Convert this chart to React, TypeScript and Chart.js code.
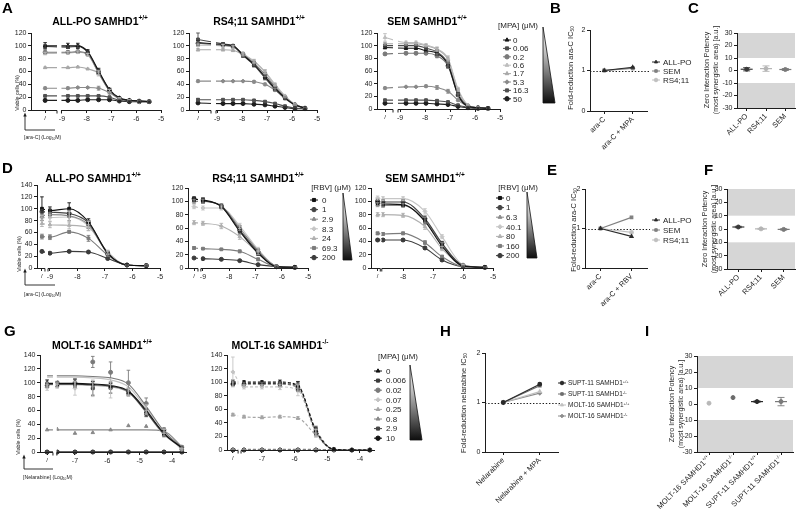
import React, { useEffect, useMemo, useRef } from 'react';
import { Chart, registerables } from 'chart.js';
import { drawPoint } from 'chart.js/helpers';

Chart.register(...registerables);

const W = 800;
const H = 520;
const FONT = '"Liberation Sans", Arial, Helvetica, sans-serif';
const INK = '#1d1d1d';

// ---------------- data ----------------
// Panel A: ara-C dose response (log10 M) under increasing MPA
const araLogA = [-8.76, -8.36, -7.96, -7.52, -7.08, -6.68, -6.28, -5.88, -5.48];
const mpaDosesA = ['0', '0.06', '0.2', '0.6', '1.7', '5.3', '16.3', '50'];
// each row: untreated control first, then one value per ara-C concentration (viable cells, %)
const allpoMpa = [
  [100, 100, 100, 91, 61, 32, 19, 15, 14, 13],
  [99, 98, 99, 90, 60, 31, 18, 15, 14, 13],
  [90, 90, 91, 87, 58, 30, 18, 15, 14, 13],
  [88, 89, 90, 86, 57, 30, 18, 15, 14, 13],
  [66, 66, 67, 64, 57, 30, 18, 15, 14, 13],
  [34, 34, 35, 35, 34, 27, 17, 14, 13, 13],
  [22, 22, 22, 22, 22, 20, 15, 14, 13, 13],
  [15, 15, 15, 16, 16, 16, 14, 13, 13, 13],
];
const allpoMpaSd = [
  [5, 4, 4, 3, 4, 2, 1, 1, 1, 1],
  [3, 2, 2, 2, 3, 2, 1, 1, 1, 1],
  [2, 2, 2, 2, 3, 2, 1, 1, 1, 1],
  [2, 2, 2, 2, 4, 2, 1, 1, 1, 1],
  [1, 1, 1, 1, 2, 2, 1, 1, 1, 1],
  [2, 2, 1, 1, 3, 2, 1, 1, 1, 1],
  [1, 1, 1, 1, 1, 1, 1, 1, 1, 1],
  [2, 1, 1, 1, 1, 1, 1, 1, 1, 1],
];
const rs411Mpa = [
  [105, 102, 100, 86, 71, 52, 34, 19, 8, 3],
  [110, 103, 100, 85, 70, 50, 32, 18, 8, 3],
  [104, 101, 99, 87, 73, 55, 36, 20, 8, 3],
  [101, 100, 98, 88, 76, 60, 40, 22, 9, 3],
  [94, 94, 93, 86, 76, 59, 39, 21, 9, 3],
  [45, 45, 45, 45, 44, 40, 31, 20, 8, 3],
  [16, 16, 16, 16, 15, 13, 10, 6, 3, 2],
  [11, 10, 10, 10, 9, 8, 6, 4, 2, 2],
];
const rs411MpaSd = [
  [3, 2, 2, 3, 3, 3, 2, 1, 1, 1],
  [10, 2, 2, 3, 3, 3, 2, 1, 1, 1],
  [2, 2, 2, 2, 3, 3, 2, 1, 1, 1],
  [2, 2, 2, 2, 3, 3, 2, 1, 1, 1],
  [2, 2, 2, 2, 2, 3, 2, 1, 1, 1],
  [2, 1, 1, 1, 2, 2, 2, 1, 1, 1],
  [2, 1, 1, 1, 1, 1, 1, 1, 1, 1],
  [1, 1, 1, 1, 1, 1, 1, 1, 1, 1],
];
const semMpa = [
  [97, 96, 96, 92, 88, 70, 22, 4, 2, 1],
  [100, 100, 100, 96, 90, 72, 24, 5, 2, 1],
  [87, 88, 88, 88, 84, 68, 22, 4, 2, 1],
  [113, 105, 105, 101, 95, 80, 32, 6, 2, 1],
  [103, 103, 103, 100, 94, 78, 30, 6, 2, 1],
  [33, 35, 35, 36, 34, 28, 14, 4, 2, 1],
  [14, 14, 14, 14, 13, 11, 6, 3, 1, 1],
  [9, 9, 9, 9, 8, 7, 4, 2, 1, 1],
];
const semMpaSd = [
  [2, 2, 2, 2, 3, 4, 2, 1, 1, 1],
  [2, 2, 2, 2, 3, 4, 2, 1, 1, 1],
  [2, 2, 2, 2, 3, 4, 2, 1, 1, 1],
  [6, 2, 2, 2, 3, 4, 2, 1, 1, 1],
  [2, 2, 2, 2, 3, 4, 2, 1, 1, 1],
  [2, 1, 1, 2, 3, 3, 2, 1, 1, 1],
  [1, 1, 1, 1, 1, 1, 1, 1, 1, 1],
  [1, 1, 1, 1, 1, 1, 1, 1, 1, 1],
];

// Panel D: ara-C dose response under increasing RBV
const araLogD = [-9, -8.3, -7.6, -6.9, -6.2, -5.5];
const araLogDsem = [-8.67, -8.0, -7.27, -6.7, -6.0, -5.27];
const rbvDoses = ['0', '1', '2.9', '8.3', '24', '69.3', '200'];
const rbvDosesSem = ['0', '1', '6.3', '40.1', '80', '160', '200'];
const allpoRbv = [
  [100, 97, 100, 78, 25, 5, 4],
  [95, 94, 92, 76, 24, 5, 4],
  [88, 90, 88, 73, 25, 5, 4],
  [85, 85, 86, 71, 26, 5, 4],
  [75, 73, 72, 68, 27, 5, 4],
  [53, 52, 61, 50, 22, 5, 4],
  [28, 25, 28, 27, 16, 5, 4],
];
const allpoRbvSd = [
  [20, 6, 10, 5, 3, 1, 1],
  [4, 5, 6, 4, 3, 1, 1],
  [3, 4, 8, 6, 3, 1, 1],
  [4, 6, 10, 8, 3, 1, 1],
  [5, 5, 6, 5, 3, 1, 1],
  [4, 4, 2, 5, 3, 1, 1],
  [2, 2, 1, 2, 2, 1, 1],
];
const rs411Rbv = [
  [103, 102, 92, 55, 22, 2, 1],
  [104, 101, 93, 57, 24, 2, 1],
  [100, 100, 93, 60, 26, 3, 1],
  [92, 90, 90, 63, 28, 3, 1],
  [68, 67, 63, 47, 23, 3, 1],
  [30, 29, 28, 25, 13, 2, 1],
  [15, 14, 13, 11, 5, 2, 1],
];
const rs411RbvSd = [
  [3, 3, 3, 4, 3, 1, 1],
  [3, 4, 3, 4, 3, 1, 1],
  [3, 3, 3, 4, 3, 1, 1],
  [3, 3, 3, 4, 3, 1, 1],
  [3, 3, 4, 4, 3, 1, 1],
  [2, 1, 1, 2, 2, 1, 1],
  [1, 1, 1, 1, 1, 1, 1],
];
const semRbv = [
  [98, 96, 95, 70, 33, 3, 1],
  [100, 99, 99, 74, 37, 4, 1],
  [95, 94, 94, 72, 35, 3, 1],
  [105, 104, 104, 85, 47, 5, 1],
  [80, 80, 79, 62, 29, 4, 1],
  [52, 51, 52, 38, 17, 2, 1],
  [42, 42, 42, 30, 12, 2, 1],
];
const semRbvSd = [
  [3, 3, 3, 4, 3, 1, 1],
  [3, 3, 3, 4, 3, 1, 1],
  [3, 3, 3, 4, 3, 1, 1],
  [3, 3, 3, 4, 3, 1, 1],
  [3, 3, 3, 4, 3, 1, 1],
  [2, 2, 2, 3, 2, 1, 1],
  [2, 2, 2, 2, 2, 1, 1],
];

// Panel G: nelarabine dose response (log10 M) under increasing MPA
const nelLog = [-7.55, -7.0, -6.45, -5.9, -5.35, -4.8, -4.25, -3.7];
const mpaDosesG = ['0', '0.006', '0.02', '0.07', '0.25', '0.8', '2.9', '10'];
const moltWtFit = [
  [99, 99, 99, 98, 96, 88, 60, 27, 6],
  [98, 98, 98, 97, 95, 87, 58, 26, 6],
  [110, 110, 110, 109, 107, 98, 66, 30, 7],
  [108, 108, 108, 107, 104, 94, 63, 30, 3],
  [97, 97, 97, 96, 94, 86, 57, 25, 6],
  [32, 32, 32, 32, 32, 32, 32, 30, 8],
  [0, 0, 0, 0, 0, 0, 0, 0, 0],
  [0, 0, 0, 0, 0, 0, 0, 0, 0],
];
const moltWt = [
  [100, 98, 100, 98, 95, 88, 58, 28, 5],
  [97, 97, 98, 92, 93, 85, 55, 25, 5],
  [96, 100, 100, 130, 115, 100, 70, 32, 7],
  [93, 95, 92, 92, 92, 87, 62, 30, 4],
  [98, 97, 98, 97, 94, 85, 57, 25, 5],
  [32, 33, 27, 28, 32, 38, 37, 30, 6],
  [0, 0, 0, 0, 0, 0, 0, 0, 0],
  [0, 0, 0, 0, 0, 0, 0, 0, 0],
];
const moltWtSd = [
  [4, 3, 5, 4, 4, 4, 4, 3, 1],
  [3, 3, 4, 10, 8, 4, 4, 3, 1],
  [3, 2, 6, 8, 15, 18, 8, 3, 2],
  [4, 3, 10, 12, 14, 5, 6, 3, 1],
  [3, 3, 3, 3, 3, 3, 3, 2, 1],
  [0, 0, 0, 0, 0, 0, 0, 0, 0],
  [0, 0, 0, 0, 0, 0, 0, 0, 0],
  [0, 0, 0, 0, 0, 0, 0, 0, 0],
];
const moltKo = [
  [100, 100, 100, 100, 95, 28, 1, 0, 0],
  [98, 98, 98, 98, 94, 30, 1, 0, 0],
  [97, 97, 97, 97, 92, 27, 1, 0, 0],
  [115, 93, 93, 93, 88, 25, 1, 0, 0],
  [52, 49, 48, 49, 47, 22, 1, 0, 0],
  [1, 1, 1, 1, 1, 1, 0, 0, 0],
  [0, 0, 0, 0, 0, 0, 0, 0, 0],
  [0, 0, 0, 0, 0, 0, 0, 0, 0],
];
const moltKoSd = [
  [3, 2, 2, 3, 6, 5, 0, 0, 0],
  [3, 2, 2, 3, 6, 5, 0, 0, 0],
  [3, 2, 2, 3, 6, 5, 0, 0, 0],
  [22, 3, 3, 4, 8, 5, 0, 0, 0],
  [2, 2, 2, 2, 2, 3, 0, 0, 0],
  [0, 0, 0, 0, 0, 0, 0, 0, 0],
  [0, 0, 0, 0, 0, 0, 0, 0, 0],
  [0, 0, 0, 0, 0, 0, 0, 0, 0],
];

// Panels B, E, H: fold-reduction of IC50
const foldMpaCats = ['ara-C', 'ara-C + MPA'];
const foldMpaAllpo = [1, 1.08];
const foldMpaSem = [1, 1.06];
const foldMpaRs411 = [1, 1.05];
const foldRbvCats = ['ara-C', 'ara-C + RBV'];
const foldRbvAllpo = [1, 0.8];
const foldRbvSem = [1, 1.28];
const foldRbvRs411 = [1, 0.9];
const foldNelCats = ['Nelarabine', 'Nelarabine + MPA'];
const foldNelSuptWt = [1, 1.37];
const foldNelSuptKo = [1, 1.34];
const foldNelMoltWt = [1, 1.22];
const foldNelMoltKo = [1, 1.19];

// Panels C, F, I: zero interaction potency (mean and spread)
const zipLines = ['ALL-PO', 'RS4;11', 'SEM'];
const zipMpa = [1.0, 1.5, 0.8];
const zipMpaSd = [1.3, 2.2, 0.8];
const zipRbv = [1.5, 0.1, -0.3];
const zipRbvSd = [0.5, 0.4, 0.5];
const zipNelLines = ['MOLT-16 SAMHD1^{+/+}', 'MOLT-16 SAMHD1^{-/-}', 'SUPT-11 SAMHD1^{+/+}', 'SUPT-11 SAMHD1^{-/-}'];
const zipNel = [0.5, 4, 1.5, 1.5];
const zipNelSd = [0, 0, 0.4, 2.6];

// ---------------- styling ----------------
const mpaColors = ['#161616', '#4a4a4a', '#7a7a7a', '#bdbdbd', '#a8a8a8', '#8a8a8a', '#505050', '#1f1f1f'];
const mpaShapes = ['triangle', 'rect', 'circle', 'triangle', 'triangle', 'rectRot', 'rect', 'circle'];
const rbvColors = ['#111111', '#444444', '#8a8a8a', '#c6c6c6', '#b0b0b0', '#7c7c7c', '#3c3c3c'];
const rbvShapes = ['rect', 'circle', 'triangle', 'rectRot', 'triangle', 'rect', 'circle'];
const mpaGColors = ['#111111', '#3a3a3a', '#7a7a7a', '#c4c4c4', '#a5a5a5', '#888888', '#444444', '#111111'];
const mpaGShapes = ['triangle', 'rect', 'circle', 'rectRot', 'triangle', 'triangle', 'rect', 'circle'];

type Area = { l: number; t: number; r: number; b: number };

function fontOf(size: number, bold = false) {
  return `${bold ? 'bold ' : ''}${size}px ${FONT}`;
}

// tiny markup: ^{..} superscript, _{..} subscript
function parseRich(s: string) {
  const out: { t: string; k: string }[] = [];
  const re = /\^\{([^}]*)\}|_\{([^}]*)\}|([^^_]+)/g;
  let m: RegExpExecArray | null;
  while ((m = re.exec(s))) {
    if (m[1] !== undefined) out.push({ t: m[1], k: 'sup' });
    else if (m[2] !== undefined) out.push({ t: m[2], k: 'sub' });
    else out.push({ t: m[3], k: 'n' });
  }
  return out;
}

function richText(ctx: CanvasRenderingContext2D, s: string, x: number, y: number, size: number, opt: any = {}) {
  const segs = parseRich(s);
  const sz = (k: string) => (k === 'n' ? size : size * 0.62);
  const widths = segs.map((g) => {
    ctx.font = fontOf(sz(g.k), opt.bold);
    return ctx.measureText(g.t).width;
  });
  const total = widths.reduce((a, b) => a + b, 0);
  let cx = opt.align === 'center' ? x - total / 2 : opt.align === 'right' ? x - total : x;
  ctx.save();
  ctx.fillStyle = opt.color || INK;
  ctx.textBaseline = 'alphabetic';
  ctx.textAlign = 'left';
  segs.forEach((g, i) => {
    ctx.font = fontOf(sz(g.k), opt.bold);
    const dy = g.k === 'sup' ? -size * 0.42 : g.k === 'sub' ? size * 0.22 : 0;
    ctx.fillText(g.t, cx, y + dy);
    cx += widths[i];
  });
  ctx.restore();
}

function vText(ctx: CanvasRenderingContext2D, s: string, x: number, cy: number, size: number) {
  ctx.save();
  ctx.translate(x, cy);
  ctx.rotate(-Math.PI / 2);
  richText(ctx, s, 0, size * 0.35, size, { align: 'center' });
  ctx.restore();
}

function letter(ctx: CanvasRenderingContext2D, s: string, x: number, y: number) {
  richText(ctx, s, x, y, 15, { bold: true, color: '#000' });
}

function heading(ctx: CanvasRenderingContext2D, s: string, cx: number, cy: number) {
  richText(ctx, s, cx, cy + 3.7, 10.5, { bold: true, align: 'center', color: '#000' });
}

function axisKey(ctx: CanvasRenderingContext2D, o: any) {
  vText(ctx, 'Viable cells (%)', o.lx, o.ly, 5.2);
  ctx.save();
  ctx.strokeStyle = INK;
  ctx.lineWidth = 0.9;
  ctx.beginPath();
  ctx.moveTo(o.ax, o.y);
  ctx.lineTo(o.ax, o.top);
  ctx.moveTo(o.ax, o.y);
  ctx.lineTo(o.right, o.y);
  ctx.stroke();
  ctx.fillStyle = INK;
  ctx.beginPath();
  ctx.moveTo(o.ax, o.top - 2.5);
  ctx.lineTo(o.ax - 1.7, o.top + 1.5);
  ctx.lineTo(o.ax + 1.7, o.top + 1.5);
  ctx.closePath();
  ctx.fill();
  ctx.restore();
  richText(ctx, o.text, o.ax - 1, o.ty, 5.2);
}

function marker(ctx: CanvasRenderingContext2D, x: number, y: number, color: string, shape: string, r = 2.2) {
  ctx.save();
  ctx.strokeStyle = color;
  ctx.lineWidth = 1;
  ctx.beginPath();
  ctx.moveTo(x - 4, y);
  ctx.lineTo(x + 4, y);
  ctx.stroke();
  ctx.fillStyle = color;
  drawPoint(ctx, { pointStyle: shape as any, radius: r, rotation: 0, borderWidth: 1 } as any, x, y);
  ctx.restore();
}

function doseLegend(ctx: CanvasRenderingContext2D, o: any) {
  richText(ctx, o.title, o.tx, o.ty + 2.8, 8, { align: 'center' });
  o.labels.forEach((lab: string, i: number) => {
    const y = o.y0 + i * o.step;
    marker(ctx, o.mx, y, o.colors[i], o.shapes[i]);
    richText(ctx, lab, o.lx, y + 2.8, 8);
  });
  const [x0, y0, x1, y1] = o.tri;
  const g = ctx.createLinearGradient(0, y0, 0, y1);
  g.addColorStop(0, '#ffffff');
  g.addColorStop(0.35, '#bdbdbd');
  g.addColorStop(1, '#0e0e0e');
  ctx.save();
  ctx.beginPath();
  ctx.moveTo(x0, y0);
  ctx.lineTo(x0, y1);
  ctx.lineTo(x1, y1);
  ctx.closePath();
  ctx.fillStyle = g;
  ctx.fill();
  ctx.strokeStyle = '#111';
  ctx.lineWidth = 0.8;
  ctx.stroke();
  ctx.restore();
}

function lineLegend(ctx: CanvasRenderingContext2D, o: any) {
  o.labels.forEach((lab: string, i: number) => {
    const y = o.y0 + i * o.step;
    marker(ctx, o.mx, y, o.colors[i], o.shapes[i], 1.8);
    richText(ctx, lab, o.lx, y + o.size * 0.35, o.size);
  });
}

function errBar(ctx: CanvasRenderingContext2D, x: number, y0: number, y1: number, color: string, cap: number) {
  ctx.strokeStyle = color;
  ctx.lineWidth = 0.9;
  ctx.beginPath();
  ctx.moveTo(x, y0);
  ctx.lineTo(x, y1);
  ctx.moveTo(x - cap, y0);
  ctx.lineTo(x + cap, y0);
  ctx.moveTo(x - cap, y1);
  ctx.lineTo(x + cap, y1);
  ctx.stroke();
}

function place(a: Area, yw: number, xh: number) {
  return { left: a.l - yw, top: a.t, right: W - a.r, bottom: H - a.b - xh };
}

function baseOptions() {
  return {
    responsive: false,
    animation: false,
    devicePixelRatio: 1,
    events: [],
    plugins: { legend: { display: false }, tooltip: { enabled: false }, title: { display: false } },
  };
}

const tickFont = { family: FONT, size: 7 };

// ---------------- dose-response panel ----------------
function doseConfig(s: any) {
  const xs = [s.ctrl, ...s.conc];
  const datasets: any[] = [];
  s.vals.forEach((row: number[], i: number) => {
    const base = {
      clip: false,
      borderColor: s.colors[i],
      backgroundColor: s.colors[i],
      borderWidth: 1.1,
      cubicInterpolationMode: 'monotone',
      borderDash: s.dashed ? [3, 2] : [],
      pointStyle: s.shapes[i],
      pointRadius: 2,
      pointBorderWidth: 1,
    };
    const pts = row.map((v, j) => ({ x: xs[j], y: v }));
    if (s.fits) {
      datasets.push({ ...base, data: s.fits[i].map((v: number, j: number) => ({ x: xs[j], y: v })), showLine: true, pointRadius: 0 });
      datasets.push({ ...base, data: pts, showLine: false });
    } else {
      datasets.push({ ...base, data: pts, showLine: true });
    }
  });
  const plugin = {
    id: 'doseDecor',
    beforeDatasetsDraw(chart: any) {
      const ctx = chart.ctx;
      const x = chart.scales.x;
      const b0 = x.getPixelForValue(s.brk[0]);
      const b1 = x.getPixelForValue(s.brk[1]);
      ctx.save();
      ctx.beginPath();
      ctx.rect(0, 0, b0, H);
      ctx.rect(b1, 0, W - b1, H);
      ctx.clip();
    },
    afterDatasetsDraw(chart: any) {
      const ctx = chart.ctx;
      ctx.restore();
      const x = chart.scales.x;
      const y = chart.scales.y;
      ctx.save();
      s.vals.forEach((row: number[], i: number) => {
        row.forEach((v, j) => {
          const e = s.errs[i][j];
          if (!e) return;
          errBar(ctx, x.getPixelForValue(xs[j]), y.getPixelForValue(v + e), y.getPixelForValue(Math.max(v - e, 0)), s.colors[i], 1.8);
        });
      });
      ctx.restore();
    },
    afterDraw(chart: any) {
      const ctx = chart.ctx;
      const x = chart.scales.x;
      const a = chart.chartArea;
      const b0 = x.getPixelForValue(s.brk[0]);
      const b1 = x.getPixelForValue(s.brk[1]);
      const yb = Math.round(a.bottom) + 0.5;
      ctx.save();
      ctx.strokeStyle = INK;
      ctx.lineWidth = 1;
      ctx.beginPath();
      ctx.moveTo(a.left, yb);
      ctx.lineTo(b0, yb);
      ctx.moveTo(b1, yb);
      ctx.lineTo(a.right, yb);
      ctx.moveTo(b0, yb);
      ctx.lineTo(b0, yb + 3);
      ctx.moveTo(b1, yb);
      ctx.lineTo(b1, yb + 3);
      ctx.stroke();
      ctx.restore();
      s.deco(ctx);
    },
  };
  return {
    type: 'scatter',
    data: { datasets },
    options: {
      ...baseOptions(),
      layout: { padding: place(s.area, 30, 20) },
      scales: {
        x: {
          type: 'linear',
          min: s.xMin,
          max: s.xMax,
          afterBuildTicks: (sc: any) => {
            sc.ticks = [s.ctrl, ...s.xTicks].map((v: number) => ({ value: v }));
          },
          ticks: {
            autoSkip: false,
            maxRotation: 0,
            padding: 2,
            color: INK,
            font: (c: any) => ({ family: FONT, size: c.tick && c.tick.value === s.ctrl ? 6 : 7 }),
            callback: (v: number) => (v === s.ctrl ? '/' : String(v)),
          },
          grid: { drawOnChartArea: false, tickLength: 3, color: INK, lineWidth: 1 },
          border: { display: false },
          afterFit: (sc: any) => {
            sc.height = 20;
          },
        },
        y: {
          min: 0,
          max: s.yMax,
          ticks: { stepSize: 20, padding: 1.5, color: INK, font: tickFont },
          grid: { drawOnChartArea: false, tickLength: 3, color: INK, lineWidth: 1 },
          border: { display: true, color: INK, width: 1 },
          afterFit: (sc: any) => {
            sc.width = 30;
          },
        },
      },
    },
    plugins: [plugin],
  };
}

// ---------------- fold-reduction panel ----------------
function foldConfig(s: any) {
  return {
    type: 'line',
    data: {
      labels: s.cats,
      datasets: s.series.map((d: number[], i: number) => ({
        data: d,
        borderColor: s.colors[i],
        backgroundColor: s.colors[i],
        borderWidth: 1.2,
        pointRadius: 1.8,
        pointStyle: s.shapes[i],
        clip: false,
        tension: 0,
      })),
    },
    options: {
      ...baseOptions(),
      layout: { padding: place(s.area, 14, 60) },
      scales: {
        x: {
          type: 'category',
          offset: true,
          ticks: { autoSkip: false, minRotation: 45, maxRotation: 45, padding: 1, color: INK, font: { family: FONT, size: 7.5 } },
          grid: { drawOnChartArea: false, tickLength: 3, color: INK, offset: false },
          border: { display: true, color: INK, width: 1 },
          afterFit: (sc: any) => {
            sc.height = 60;
          },
        },
        y: {
          min: 0,
          max: 2,
          ticks: { stepSize: 1, padding: 1.5, color: INK, font: tickFont },
          grid: { drawOnChartArea: false, tickLength: 3, color: INK },
          border: { display: true, color: INK, width: 1 },
          afterFit: (sc: any) => {
            sc.width = 14;
          },
        },
      },
    },
    plugins: [
      {
        id: 'foldDecor',
        beforeDatasetsDraw(chart: any) {
          const ctx = chart.ctx;
          const a = chart.chartArea;
          const y1 = Math.round(chart.scales.y.getPixelForValue(1)) + 0.5;
          ctx.save();
          ctx.strokeStyle = INK;
          ctx.lineWidth = 1;
          ctx.setLineDash([1.4, 1.8]);
          ctx.beginPath();
          ctx.moveTo(a.left, y1);
          ctx.lineTo(a.right + 3, y1);
          ctx.stroke();
          ctx.restore();
        },
        afterDraw(chart: any) {
          s.deco(chart.ctx);
        },
      },
    ],
  };
}

// ---------------- zero interaction potency panel ----------------
function zipConfig(s: any) {
  const plain = s.cats.map((c: string) => c.replace(/\^\{[^}]*\}/g, ''));
  return {
    type: 'line',
    data: {
      labels: plain,
      datasets: [
        {
          data: s.means,
          showLine: false,
          pointRadius: 2,
          pointBackgroundColor: s.colors,
          pointBorderColor: s.colors,
          clip: false,
        },
      ],
    },
    options: {
      ...baseOptions(),
      layout: { padding: place(s.area, 18, 60) },
      scales: {
        x: {
          type: 'category',
          offset: true,
          ticks: { display: !s.richLabels, autoSkip: false, minRotation: 45, maxRotation: 45, padding: 1, color: INK, font: { family: FONT, size: 7.5 } },
          grid: { drawOnChartArea: false, tickLength: 3, color: INK, offset: false },
          border: { display: true, color: INK, width: 1 },
          afterFit: (sc: any) => {
            sc.height = 60;
          },
        },
        y: {
          min: -30,
          max: 30,
          ticks: { stepSize: 10, padding: 1.5, color: INK, font: tickFont },
          grid: { drawOnChartArea: false, tickLength: 3, color: INK },
          border: { display: true, color: INK, width: 1 },
          afterFit: (sc: any) => {
            sc.width = 18;
          },
        },
      },
    },
    plugins: [
      {
        id: 'zipDecor',
        beforeDraw(chart: any) {
          const ctx = chart.ctx;
          const a = chart.chartArea;
          const y = chart.scales.y;
          ctx.save();
          ctx.fillStyle = '#d6d6d6';
          ctx.fillRect(a.left, y.getPixelForValue(30), a.right - a.left, y.getPixelForValue(10) - y.getPixelForValue(30));
          ctx.fillRect(a.left, y.getPixelForValue(-10), a.right - a.left, y.getPixelForValue(-30) - y.getPixelForValue(-10));
          ctx.restore();
        },
        afterDatasetsDraw(chart: any) {
          const ctx = chart.ctx;
          const x = chart.scales.x;
          const y = chart.scales.y;
          ctx.save();
          s.means.forEach((m: number, i: number) => {
            const px = x.getPixelForValue(i);
            const py = y.getPixelForValue(m);
            if (s.sds[i] > 0) {
              ctx.strokeStyle = s.colors[i];
              ctx.lineWidth = 1.2;
              ctx.beginPath();
              ctx.moveTo(px - 6, py);
              ctx.lineTo(px + 6, py);
              ctx.stroke();
              errBar(ctx, px, y.getPixelForValue(m + s.sds[i]), y.getPixelForValue(m - s.sds[i]), s.colors[i], 3.5);
            }
          });
          ctx.restore();
        },
        afterDraw(chart: any) {
          const ctx = chart.ctx;
          if (s.richLabels) {
            const x = chart.scales.x;
            const yb = chart.chartArea.bottom + 5;
            s.cats.forEach((c: string, i: number) => {
              ctx.save();
              ctx.translate(x.getPixelForValue(i), yb);
              ctx.rotate(-Math.PI / 4);
              richText(ctx, c, 0, 2.5, 7.6, { align: 'right' });
              ctx.restore();
            });
          }
          s.deco(ctx);
        },
      },
    ],
  };
}

function buildAll() {
  const list: any[] = [];

  // ---- row 1: ara-C + MPA ----
  list.push(
    doseConfig({
      area: { l: 31, t: 33, r: 161, b: 110 },
      xMin: -10.25, xMax: -5, ctrl: -9.68, brk: [-9.2, -9.02], xTicks: [-9, -8, -7, -6, -5], yMax: 120,
      conc: araLogA, vals: allpoMpa, errs: allpoMpaSd, colors: mpaColors, shapes: mpaShapes,
      deco: (ctx: CanvasRenderingContext2D) => {
        letter(ctx, 'A', 2, 13);
        heading(ctx, 'ALL-PO SAMHD1^{+/+}', 100, 21);
        axisKey(ctx, { lx: 17, ly: 93, ax: 25, top: 115, y: 130, right: 55, ty: 139, text: '[ara-C] (Log_{10}M)' });
      },
    })
  );
  list.push(
    doseConfig({
      area: { l: 189, t: 33, r: 317, b: 110 },
      xMin: -10.12, xMax: -5, ctrl: -9.76, brk: [-9.24, -9.04], xTicks: [-9, -8, -7, -6, -5], yMax: 120,
      conc: araLogA, vals: rs411Mpa, errs: rs411MpaSd, colors: mpaColors, shapes: mpaShapes,
      deco: (ctx: CanvasRenderingContext2D) => {
        heading(ctx, 'RS4;11 SAMHD1^{+/+}', 259, 21);
      },
    })
  );
  list.push(
    doseConfig({
      area: { l: 377, t: 33, r: 500, b: 109 },
      xMin: -9.92, xMax: -5, ctrl: -9.6, brk: [-9.28, -9.08], xTicks: [-9, -8, -7, -6, -5], yMax: 120,
      conc: araLogA, vals: semMpa, errs: semMpaSd, colors: mpaColors, shapes: mpaShapes,
      deco: (ctx: CanvasRenderingContext2D) => {
        heading(ctx, 'SEM SAMHD1^{+/+}', 427, 21);
        doseLegend(ctx, {
          title: '[MPA] (μM)', tx: 518, ty: 25, mx: 507, lx: 513, y0: 40, step: 8.4,
          labels: mpaDosesA, colors: mpaColors, shapes: mpaShapes, tri: [543, 27, 555, 103],
        });
      },
    })
  );
  list.push(
    foldConfig({
      area: { l: 590, t: 30, r: 647, b: 111 },
      cats: foldMpaCats,
      series: [foldMpaAllpo, foldMpaSem, foldMpaRs411],
      colors: ['#2a2a2a', '#808080', '#c0c0c0'],
      shapes: ['triangle', 'rect', 'circle'],
      deco: (ctx: CanvasRenderingContext2D) => {
        letter(ctx, 'B', 550, 13);
        vText(ctx, 'Fold-reduction ara-C IC_{50}', 570, 68, 7.5);
        lineLegend(ctx, { mx: 656, lx: 663, y0: 62, step: 9, size: 8, labels: ['ALL-PO', 'SEM', 'RS4;11'], colors: ['#2a2a2a', '#808080', '#c0c0c0'], shapes: ['triangle', 'rect', 'circle'] });
      },
    })
  );
  list.push(
    zipConfig({
      area: { l: 737, t: 33, r: 798, b: 108 },
      cats: zipLines, means: zipMpa, sds: zipMpaSd, colors: ['#3a3a3a', '#b5b5b5', '#7a7a7a'],
      deco: (ctx: CanvasRenderingContext2D) => {
        letter(ctx, 'C', 688, 13);
        vText(ctx, 'Zero Interaction Potency', 707, 70, 7);
        vText(ctx, '(most synergistic area) [a.u.]', 716, 70, 7);
      },
    })
  );

  // ---- row 2: ara-C + RBV ----
  list.push(
    doseConfig({
      area: { l: 37, t: 185, r: 160, b: 268 },
      xMin: -9.47, xMax: -5, ctrl: -9.29, brk: [-9.18, -9.07], xTicks: [-9, -8, -7, -6, -5], yMax: 140,
      conc: araLogD, vals: allpoRbv, errs: allpoRbvSd, colors: rbvColors, shapes: rbvShapes,
      deco: (ctx: CanvasRenderingContext2D) => {
        letter(ctx, 'D', 2, 173);
        heading(ctx, 'ALL-PO SAMHD1^{+/+}', 93, 178);
        axisKey(ctx, { lx: 19, ly: 254, ax: 25, top: 271, y: 285, right: 55, ty: 296, text: '[ara-C] (Log_{10}M)' });
      },
    })
  );
  list.push(
    doseConfig({
      area: { l: 188, t: 188, r: 308, b: 268 },
      xMin: -9.57, xMax: -5, ctrl: -9.34, brk: [-9.19, -9.08], xTicks: [-9, -8, -7, -6, -5], yMax: 120,
      conc: araLogD, vals: rs411Rbv, errs: rs411RbvSd, colors: rbvColors, shapes: rbvShapes,
      deco: (ctx: CanvasRenderingContext2D) => {
        heading(ctx, 'RS4;11 SAMHD1^{+/+}', 258, 178);
        doseLegend(ctx, {
          title: '[RBV] (μM)', tx: 331, ty: 187, mx: 314, lx: 322, y0: 200, step: 9.6,
          labels: rbvDoses, colors: rbvColors, shapes: rbvShapes, tri: [343, 193, 352, 260],
        });
      },
    })
  );
  list.push(
    doseConfig({
      area: { l: 371, t: 188, r: 493, b: 268 },
      xMin: -9.07, xMax: -5, ctrl: -8.85, brk: [-8.76, -8.71], xTicks: [-8, -7, -6, -5], yMax: 120,
      conc: araLogDsem, vals: semRbv, errs: semRbvSd, colors: rbvColors, shapes: rbvShapes,
      deco: (ctx: CanvasRenderingContext2D) => {
        heading(ctx, 'SEM SAMHD1^{+/+}', 425, 178);
        doseLegend(ctx, {
          title: '[RBV] (μM)', tx: 518, ty: 187, mx: 500, lx: 506, y0: 198, step: 9.6,
          labels: rbvDosesSem, colors: rbvColors, shapes: rbvShapes, tri: [527, 192, 537, 258],
        });
      },
    })
  );
  list.push(
    foldConfig({
      area: { l: 585, t: 189, r: 647, b: 268 },
      cats: foldRbvCats,
      series: [foldRbvAllpo, foldRbvSem, foldRbvRs411],
      colors: ['#2a2a2a', '#808080', '#c0c0c0'],
      shapes: ['triangle', 'rect', 'circle'],
      deco: (ctx: CanvasRenderingContext2D) => {
        letter(ctx, 'E', 547, 175);
        vText(ctx, 'Fold-reduction ara-C IC_{50}', 573, 230, 7.5);
        lineLegend(ctx, { mx: 656, lx: 663, y0: 220, step: 10, size: 8, labels: ['ALL-PO', 'SEM', 'RS4;11'], colors: ['#2a2a2a', '#808080', '#c0c0c0'], shapes: ['triangle', 'rect', 'circle'] });
      },
    })
  );
  list.push(
    zipConfig({
      area: { l: 727, t: 189, r: 800, b: 269 },
      cats: zipLines, means: zipRbv, sds: zipRbvSd, colors: ['#3a3a3a', '#b5b5b5', '#7a7a7a'],
      deco: (ctx: CanvasRenderingContext2D) => {
        letter(ctx, 'F', 704, 175);
        vText(ctx, 'Zero Interaction Potency', 705, 229, 7);
        vText(ctx, '(most synergistic area) [a.u.]', 714, 229, 7);
      },
    })
  );

  // ---- row 3: nelarabine + MPA ----
  list.push(
    doseConfig({
      area: { l: 40, t: 355, r: 187, b: 452 },
      xMin: -8.08, xMax: -3.54, ctrl: -7.86, brk: [-7.68, -7.56], xTicks: [-7, -6, -5, -4], yMax: 140,
      conc: nelLog, vals: moltWt, errs: moltWtSd, fits: moltWtFit, colors: mpaGColors, shapes: mpaGShapes,
      deco: (ctx: CanvasRenderingContext2D) => {
        letter(ctx, 'G', 4, 336);
        heading(ctx, 'MOLT-16 SAMHD1^{+/+}', 102, 345);
        axisKey(ctx, { lx: 18, ly: 437, ax: 24, top: 457, y: 469, right: 53, ty: 479, text: '[Nelarabine] (Log_{10}M)' });
      },
    })
  );
  list.push(
    doseConfig({
      area: { l: 227, t: 355, r: 375, b: 450 },
      xMin: -8.07, xMax: -3.54, ctrl: -7.89, brk: [-7.73, -7.64], xTicks: [-7, -6, -5, -4], yMax: 140,
      conc: nelLog, vals: moltKo, errs: moltKoSd, colors: mpaGColors, shapes: mpaGShapes, dashed: true,
      deco: (ctx: CanvasRenderingContext2D) => {
        heading(ctx, 'MOLT-16 SAMHD1^{-/-}', 280, 345);
        doseLegend(ctx, {
          title: '[MPA] (μM)', tx: 398, ty: 356, mx: 378, lx: 386, y0: 371, step: 9.6,
          labels: mpaDosesG, colors: mpaGColors, shapes: mpaGShapes, tri: [410, 365, 422, 440],
        });
      },
    })
  );
  list.push(
    foldConfig({
      area: { l: 485, t: 353, r: 558, b: 452 },
      cats: foldNelCats,
      series: [foldNelSuptWt, foldNelSuptKo, foldNelMoltWt, foldNelMoltKo],
      colors: ['#2a2a2a', '#6e6e6e', '#c0c0c0', '#8c8c8c'],
      shapes: ['circle', 'rect', 'triangle', 'rectRot'],
      deco: (ctx: CanvasRenderingContext2D) => {
        letter(ctx, 'H', 440, 336);
        vText(ctx, 'Fold-reduction nelarabine IC_{50}', 463, 403, 7.5);
        lineLegend(ctx, {
          mx: 562, lx: 568, y0: 383, step: 11, size: 6.5,
          labels: ['SUPT-11 SAMHD1^{+/+}', 'SUPT-11 SAMHD1^{-/-}', 'MOLT-16 SAMHD1^{+/+}', 'MOLT-16 SAMHD1^{-/-}'],
          colors: ['#2a2a2a', '#6e6e6e', '#c0c0c0', '#8c8c8c'],
          shapes: ['circle', 'rect', 'triangle', 'rectRot'],
        });
      },
    })
  );
  list.push(
    zipConfig({
      area: { l: 697, t: 356, r: 793, b: 452 },
      cats: zipNelLines, means: zipNel, sds: zipNelSd, colors: ['#b8b8b8', '#6a6a6a', '#2a2a2a', '#7a7a7a'], richLabels: true,
      deco: (ctx: CanvasRenderingContext2D) => {
        letter(ctx, 'I', 645, 336);
        vText(ctx, 'Zero Interaction Potency', 672, 404, 7);
        vText(ctx, '(most synergistic area) [a.u.]', 681, 404, 7);
      },
    })
  );
  return list;
}

function Layer({ config }: { config: any }) {
  const ref = useRef<HTMLCanvasElement>(null);
  useEffect(() => {
    const chart = new Chart(ref.current as HTMLCanvasElement, config);
    return () => chart.destroy();
  }, [config]);
  return <canvas ref={ref} width={W} height={H} style={{ position: 'absolute', left: 0, top: 0, width: W, height: H }} />;
}

export default function App() {
  const configs = useMemo(() => buildAll(), []);
  return (
    <div style={{ position: 'fixed', left: 0, top: 0, width: W, height: H, background: '#fff', overflow: 'hidden' }}>
      {configs.map((c, i) => (
        <Layer key={i} config={c} />
      ))}
    </div>
  );
}
